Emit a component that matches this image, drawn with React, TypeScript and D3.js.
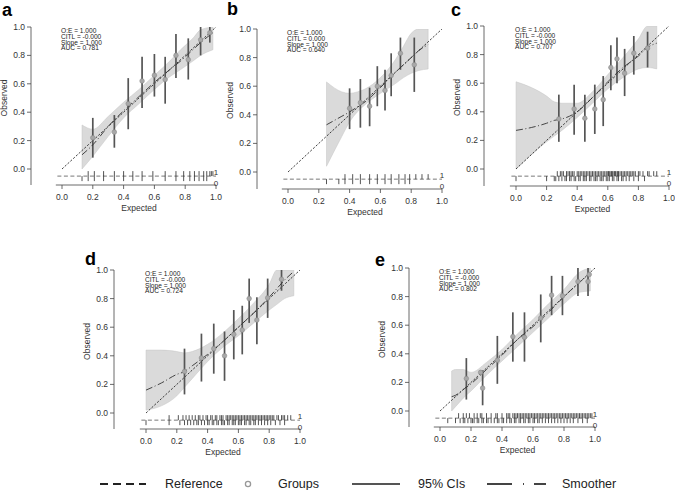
import React from "react";
import * as d3 from "d3";

// ---------- Panel a ----------
const aGroupX = [0.20, 0.34, 0.43, 0.52, 0.60, 0.67, 0.74, 0.82, 0.90, 0.96];
const aGroupY = [0.22, 0.26, 0.46, 0.62, 0.66, 0.63, 0.80, 0.77, 0.91, 0.96];
const aGroupLo = [0.08, 0.15, 0.28, 0.43, 0.51, 0.46, 0.64, 0.63, 0.80, 0.89];
const aGroupHi = [0.36, 0.38, 0.64, 0.79, 0.81, 0.79, 0.95, 0.92, 1.0, 1.0];
const aSmoothX = [0.13, 0.2, 0.3, 0.4, 0.5, 0.6, 0.7, 0.77, 0.85, 0.9, 0.98];
const aSmoothY = [0.10, 0.17, 0.30, 0.41, 0.51, 0.61, 0.70, 0.76, 0.84, 0.89, 0.96];
const aSmoothLo = [0.0, 0.09, 0.23, 0.36, 0.46, 0.56, 0.65, 0.70, 0.76, 0.80, 0.84];
const aSmoothHi = [0.31, 0.28, 0.37, 0.47, 0.56, 0.66, 0.76, 0.84, 0.92, 0.98, 1.0];
const aRugOnes = [0.17, 0.21, 0.27, 0.34, 0.40, 0.46, 0.52, 0.59, 0.67, 0.74, 0.79, 0.83, 0.86, 0.89, 0.92, 0.94, 0.96, 0.97, 0.98];
const aRugZeros = [0.13, 0.17, 0.21, 0.27, 0.34, 0.40, 0.46, 0.52, 0.59, 0.67, 0.74, 0.79, 0.83, 0.86, 0.89, 0.92, 0.94];

// ---------- Panel b ----------
const bGroupX = [0.40, 0.47, 0.53, 0.58, 0.63, 0.67, 0.73, 0.82];
const bGroupY = [0.445, 0.485, 0.46, 0.60, 0.57, 0.675, 0.83, 0.75];
const bGroupLo = [0.30, 0.31, 0.32, 0.46, 0.43, 0.53, 0.715, 0.56];
const bGroupHi = [0.585, 0.65, 0.59, 0.74, 0.715, 0.83, 0.94, 0.94];
const bSmoothX = [0.25, 0.35, 0.4, 0.45, 0.5, 0.6, 0.7, 0.75, 0.8, 0.85, 0.91];
const bSmoothY = [0.33, 0.39, 0.42, 0.455, 0.49, 0.59, 0.70, 0.75, 0.80, 0.85, 0.89];
const bSmoothLo = [0.04, 0.25, 0.35, 0.42, 0.47, 0.55, 0.62, 0.66, 0.69, 0.71, 0.72];
const bSmoothHi = [0.63, 0.56, 0.55, 0.56, 0.58, 0.66, 0.79, 0.88, 0.97, 1.0, 1.0];
const bRugOnes = [0.37, 0.42, 0.47, 0.53, 0.58, 0.63, 0.67, 0.72, 0.76, 0.79, 0.83, 0.87, 0.91];
const bRugZeros = [0.25, 0.33, 0.37, 0.42, 0.47, 0.53, 0.58, 0.63, 0.67, 0.72, 0.76, 0.79];

// ---------- Panel c ----------
const cGroupX = [0.28, 0.38, 0.45, 0.515, 0.57, 0.62, 0.66, 0.71, 0.77, 0.86];
const cGroupY = [0.35, 0.42, 0.355, 0.42, 0.485, 0.71, 0.77, 0.67, 0.81, 0.845];
const cGroupLo = [0.19, 0.24, 0.19, 0.245, 0.30, 0.55, 0.60, 0.51, 0.66, 0.71];
const cGroupHi = [0.52, 0.59, 0.52, 0.59, 0.65, 0.865, 0.92, 0.84, 0.93, 0.96];
const cSmoothX = [0.0, 0.1, 0.2, 0.25, 0.3, 0.4, 0.5, 0.6, 0.7, 0.8, 0.86, 0.92];
const cSmoothY = [0.27, 0.29, 0.32, 0.34, 0.35, 0.40, 0.50, 0.61, 0.71, 0.79, 0.85, 0.88];
const cSmoothLo = [0.0, 0.10, 0.19, 0.23, 0.27, 0.36, 0.46, 0.56, 0.64, 0.70, 0.71, 0.70];
const cSmoothHi = [0.61, 0.57, 0.51, 0.47, 0.46, 0.46, 0.54, 0.66, 0.78, 0.91, 1.0, 1.0];
const cRugOnes = [0.27, 0.29, 0.30, 0.31, 0.33, 0.34, 0.35, 0.36, 0.37, 0.38, 0.40, 0.41, 0.42, 0.43, 0.44, 0.45, 0.46, 0.47, 0.48, 0.49, 0.50, 0.51, 0.52, 0.53, 0.54, 0.55, 0.56, 0.57, 0.58, 0.59, 0.60, 0.605, 0.61, 0.62, 0.625, 0.63, 0.64, 0.645, 0.65, 0.66, 0.665, 0.67, 0.68, 0.69, 0.70, 0.71, 0.72, 0.73, 0.74, 0.75, 0.76, 0.77, 0.78, 0.80, 0.81, 0.83, 0.86, 0.87, 0.90, 0.92];
const cRugZeros = [0.0, 0.20, 0.25, 0.26, 0.28, 0.30, 0.32, 0.33, 0.35, 0.36, 0.38, 0.39, 0.41, 0.42, 0.44, 0.45, 0.46, 0.48, 0.49, 0.51, 0.52, 0.53, 0.55, 0.56, 0.57, 0.59, 0.60, 0.61, 0.63, 0.64, 0.66, 0.67, 0.69, 0.70, 0.72, 0.74, 0.77, 0.80, 0.84];

// ---------- Panel d ----------
const dGroupX = [0.25, 0.36, 0.44, 0.51, 0.57, 0.625, 0.67, 0.72, 0.79, 0.88];
const dGroupY = [0.29, 0.385, 0.45, 0.40, 0.55, 0.58, 0.80, 0.65, 0.805, 0.935];
const dGroupLo = [0.13, 0.22, 0.275, 0.225, 0.375, 0.41, 0.63, 0.48, 0.665, 0.855];
const dGroupHi = [0.45, 0.555, 0.625, 0.57, 0.72, 0.75, 0.94, 0.81, 0.94, 1.0];
const dSmoothX = [0.0, 0.1, 0.2, 0.25, 0.3, 0.4, 0.5, 0.6, 0.7, 0.8, 0.85, 0.9, 0.96];
const dSmoothY = [0.16, 0.21, 0.27, 0.29, 0.33, 0.41, 0.50, 0.60, 0.70, 0.81, 0.87, 0.93, 0.99];
const dSmoothLo = [0.02, 0.05, 0.12, 0.18, 0.24, 0.36, 0.46, 0.54, 0.63, 0.72, 0.76, 0.80, 0.82];
const dSmoothHi = [0.44, 0.44, 0.43, 0.42, 0.43, 0.48, 0.56, 0.66, 0.77, 0.90, 1.0, 1.0, 1.0];
const dRugOnes = [0.15, 0.21, 0.24, 0.26, 0.28, 0.30, 0.32, 0.34, 0.35, 0.37, 0.39, 0.40, 0.42, 0.43, 0.45, 0.46, 0.48, 0.49, 0.50, 0.52, 0.53, 0.54, 0.55, 0.56, 0.57, 0.58, 0.59, 0.60, 0.61, 0.62, 0.63, 0.64, 0.65, 0.66, 0.67, 0.68, 0.69, 0.70, 0.71, 0.72, 0.73, 0.74, 0.75, 0.76, 0.77, 0.78, 0.79, 0.80, 0.81, 0.82, 0.83, 0.85, 0.86, 0.88, 0.89, 0.90, 0.92, 0.94];
const dRugZeros = [0.0, 0.15, 0.22, 0.25, 0.27, 0.29, 0.31, 0.33, 0.34, 0.36, 0.38, 0.40, 0.41, 0.43, 0.44, 0.46, 0.47, 0.49, 0.50, 0.51, 0.53, 0.54, 0.56, 0.57, 0.58, 0.60, 0.61, 0.62, 0.64, 0.65, 0.67, 0.68, 0.70, 0.71, 0.73, 0.75, 0.77, 0.79, 0.81, 0.84, 0.87, 0.90];

// ---------- Panel e ----------
const eGroupX = [0.17, 0.262, 0.275, 0.37, 0.47, 0.545, 0.65, 0.72, 0.79, 0.89, 0.955, 0.963];
const eGroupY = [0.227, 0.27, 0.16, 0.355, 0.52, 0.515, 0.65, 0.81, 0.805, 0.905, 0.905, 0.955];
const eGroupLo = [0.08, 0.255, 0.04, 0.19, 0.345, 0.345, 0.48, 0.67, 0.67, 0.805, 0.805, 0.945];
const eGroupHi = [0.37, 0.285, 0.285, 0.525, 0.69, 0.69, 0.815, 0.945, 0.945, 1.0, 1.0, 0.965];
const eSmoothX = [0.075, 0.1, 0.15, 0.2, 0.3, 0.4, 0.5, 0.6, 0.7, 0.8, 0.9, 0.97];
const eSmoothY = [0.10, 0.11, 0.15, 0.19, 0.29, 0.39, 0.50, 0.59, 0.69, 0.80, 0.90, 0.96];
const eSmoothLo = [0.0, 0.03, 0.09, 0.14, 0.25, 0.35, 0.45, 0.55, 0.65, 0.75, 0.83, 0.84];
const eSmoothHi = [0.28, 0.29, 0.29, 0.27, 0.34, 0.43, 0.54, 0.64, 0.75, 0.85, 0.97, 1.0];
const eRugOnes = [0.12, 0.15, 0.17, 0.19, 0.22, 0.24, 0.26, 0.27, 0.30, 0.33, 0.36, 0.37, 0.40, 0.43, 0.44, 0.45, 0.47, 0.48, 0.49, 0.50, 0.51, 0.52, 0.53, 0.54, 0.55, 0.56, 0.57, 0.58, 0.59, 0.60, 0.61, 0.62, 0.63, 0.64, 0.65, 0.66, 0.67, 0.68, 0.69, 0.70, 0.71, 0.72, 0.73, 0.74, 0.75, 0.76, 0.77, 0.78, 0.79, 0.80, 0.81, 0.82, 0.83, 0.84, 0.85, 0.86, 0.87, 0.88, 0.89, 0.90, 0.91, 0.92, 0.93, 0.94, 0.95, 0.96, 0.97, 0.98];
const eRugZeros = [0.05, 0.10, 0.13, 0.15, 0.16, 0.18, 0.20, 0.21, 0.22, 0.24, 0.25, 0.27, 0.28, 0.30, 0.31, 0.33, 0.35, 0.37, 0.38, 0.40, 0.41, 0.43, 0.45, 0.46, 0.48, 0.49, 0.51, 0.52, 0.54, 0.55, 0.57, 0.58, 0.60, 0.61, 0.63, 0.64, 0.66, 0.68, 0.70, 0.72, 0.74, 0.76, 0.78, 0.80, 0.82, 0.84, 0.86, 0.89, 0.92, 0.95];

// Summary statistics printed in each panel
const panelLetters = ["a", "b", "c", "d", "e"];
const citlValues = ["-0.000", "0.000", "-0.000", "-0.000", "-0.000"];
const aucValues = ["0.781", "0.640", "0.707", "0.724", "0.802"];

const axisTicks = [0, 0.2, 0.4, 0.6, 0.8, 1.0];
const legendLabels = ["Reference", "Groups", "95% CIs", "Smoother"];

const FONT = "'Liberation Sans', Arial, Helvetica, sans-serif";

type PanelData = {
  gx: number[]; gy: number[]; glo: number[]; ghi: number[];
  sx: number[]; sy: number[]; slo: number[]; shi: number[];
  ones: number[]; zeros: number[];
};

const panelData: PanelData[] = [
  { gx: aGroupX, gy: aGroupY, glo: aGroupLo, ghi: aGroupHi, sx: aSmoothX, sy: aSmoothY, slo: aSmoothLo, shi: aSmoothHi, ones: aRugOnes, zeros: aRugZeros },
  { gx: bGroupX, gy: bGroupY, glo: bGroupLo, ghi: bGroupHi, sx: bSmoothX, sy: bSmoothY, slo: bSmoothLo, shi: bSmoothHi, ones: bRugOnes, zeros: bRugZeros },
  { gx: cGroupX, gy: cGroupY, glo: cGroupLo, ghi: cGroupHi, sx: cSmoothX, sy: cSmoothY, slo: cSmoothLo, shi: cSmoothHi, ones: cRugOnes, zeros: cRugZeros },
  { gx: dGroupX, gy: dGroupY, glo: dGroupLo, ghi: dGroupHi, sx: dSmoothX, sy: dSmoothY, slo: dSmoothLo, shi: dSmoothHi, ones: dRugOnes, zeros: dRugZeros },
  { gx: eGroupX, gy: eGroupY, glo: eGroupLo, ghi: eGroupHi, sx: eSmoothX, sy: eSmoothY, slo: eSmoothLo, shi: eSmoothHi, ones: eRugOnes, zeros: eRugZeros },
];

// Pixel layout of each panel: y-axis position, x range, y range, x-axis position, letter position
const panelLayout = [
  { axisX: 31, x0: 62, x1: 216, yTop: 27, yZero: 169, axisY: 185, lx: 2, ly: 16 },
  { axisX: 257, x0: 288, x1: 442, yTop: 29, yZero: 172, axisY: 189, lx: 227, ly: 15 },
  { axisX: 484, x0: 516, x1: 669, yTop: 26, yZero: 169, axisY: 186, lx: 451, ly: 16 },
  { axisX: 114, x0: 146, x1: 300, yTop: 270, yZero: 413, axisY: 429, lx: 85, ly: 265 },
  { axisX: 409, x0: 440, x1: 595, yTop: 268, yZero: 411, axisY: 427, lx: 375, ly: 266 },
];

function Panel({ idx }: { idx: number }) {
  const L = panelLayout[idx];
  const D = panelData[idx];
  const x = d3.scaleLinear().domain([0, 1]).range([L.x0, L.x1]);
  const y = d3.scaleLinear().domain([0, 1]).range([L.yZero, L.yTop]);
  const fmt = d3.format(".1f");

  const smooth = D.sx.map((v, i) => ({ x: v, y: D.sy[i], lo: D.slo[i], hi: D.shi[i] }));
  const area = d3
    .area<{ x: number; lo: number; hi: number }>()
    .x((d) => x(d.x))
    .y0((d) => y(d.lo))
    .y1((d) => y(d.hi))
    .curve(d3.curveMonotoneX);
  const line = d3
    .line<{ x: number; y: number }>()
    .x((d) => x(d.x))
    .y((d) => y(d.y))
    .curve(d3.curveMonotoneX);

  const rugY = y(-0.05);
  const tick = 5;
  const clipId = `clip-${idx}`;

  return (
    <g>
      <defs>
        <clipPath id={clipId}>
          <rect x={L.axisX} y={y(1)} width={L.x1 - L.axisX + 10} height={L.axisY - y(1)} />
        </clipPath>
      </defs>
      <text x={L.lx} y={L.ly} fontFamily={FONT} fontWeight="bold" fontSize={18} fill="#000">
        {panelLetters[idx]}
      </text>

      {/* axes */}
      <line x1={L.axisX} x2={L.axisX} y1={y(1)} y2={L.axisY} stroke="#444" strokeWidth={0.8} />
      {axisTicks.map((t) => (
        <g key={`yt${t}`}>
          <line x1={L.axisX - 4} x2={L.axisX} y1={y(t)} y2={y(t)} stroke="#444" strokeWidth={0.8} />
          <text x={L.axisX - 6} y={y(t) + 3} textAnchor="end" fontFamily={FONT} fontSize={8.5} fill="#333">
            {fmt(t)}
          </text>
        </g>
      ))}
      <line x1={x(-0.04)} x2={x(1)} y1={L.axisY} y2={L.axisY} stroke="#444" strokeWidth={0.8} />
      {axisTicks.map((t) => (
        <g key={`xt${t}`}>
          <line x1={x(t)} x2={x(t)} y1={L.axisY} y2={L.axisY + 4} stroke="#444" strokeWidth={0.8} />
          <text x={x(t)} y={L.axisY + 15} textAnchor="middle" fontFamily={FONT} fontSize={8.5} fill="#333">
            {fmt(t)}
          </text>
        </g>
      ))}
      <text x={x(0.5)} y={L.axisY + 26} textAnchor="middle" fontFamily={FONT} fontSize={8.5} fill="#333">
        Expected
      </text>
      <text
        transform={`translate(${L.axisX - 24},${y(0.5)}) rotate(-90)`}
        textAnchor="middle"
        fontFamily={FONT}
        fontSize={8.5}
        fill="#333"
      >
        Observed
      </text>

      <g clipPath={`url(#${clipId})`}>
        {/* smoother confidence band */}
        <path d={area(smooth) || ""} fill="#dadada" stroke="#c4c4c4" strokeWidth={0.5} />
        {/* reference diagonal */}
        <line x1={x(0)} y1={y(0)} x2={x(1)} y2={y(1)} stroke="#111" strokeWidth={0.8} strokeDasharray="2.2,1.6" />
        {/* group CIs */}
        {D.gx.map((gx, i) => (
          <line key={`ci${i}`} x1={x(gx)} x2={x(gx)} y1={y(D.glo[i])} y2={y(D.ghi[i])} stroke="#555" strokeWidth={1.7} />
        ))}
        {/* smoother */}
        <path d={line(smooth) || ""} fill="none" stroke="#333" strokeWidth={0.9} strokeDasharray="7,2.5,1,2.5" />
        {/* group points */}
        {D.gx.map((gx, i) => (
          <circle key={`pt${i}`} cx={x(gx)} cy={y(D.gy[i])} r={2.3} fill="#a8a8a8" stroke="#8a8a8a" strokeWidth={0.6} />
        ))}
      </g>

      {/* distribution of predictions by outcome */}
      <line x1={x(-0.03)} x2={x(1)} y1={rugY} y2={rugY} stroke="#555" strokeWidth={0.8} strokeDasharray="4,2.5" />
      {D.ones.map((v, i) => (
        <line key={`r1${i}`} x1={x(v)} x2={x(v)} y1={rugY} y2={rugY - tick} stroke="#2a2a2a" strokeWidth={0.8} />
      ))}
      {D.zeros.map((v, i) => (
        <line key={`r0${i}`} x1={x(v)} x2={x(v)} y1={rugY} y2={rugY + tick} stroke="#2a2a2a" strokeWidth={0.8} />
      ))}
      <text x={x(1)} y={rugY - 1} textAnchor="middle" fontFamily={FONT} fontSize={8} fill="#333">1</text>
      <text x={x(1)} y={rugY + 10} textAnchor="middle" fontFamily={FONT} fontSize={8} fill="#333">0</text>

      {/* statistics */}
      {[
        "O:E = 1.000",
        `CITL = ${citlValues[idx]}`,
        "Slope = 1.000",
        `AUC = ${aucValues[idx]}`,
      ].map((s, i) => (
        <text key={`st${i}`} x={L.x0 - 1} y={L.yTop + 6} fontFamily={FONT} fontSize={6.6} fill="#222"
          dy={i * 5.8}>
          {s}
        </text>
      ))}
    </g>
  );
}

function Legend() {
  const y = 484;
  const ty = 488;
  return (
    <g fontFamily={FONT} fontSize={12.5} fill="#222">
      <line x1={100} x2={146} y1={y} y2={y} stroke="#222" strokeWidth={1.8} strokeDasharray="8,5" />
      <text x={165} y={ty}>{legendLabels[0]}</text>
      <circle cx={248} cy={y} r={2.6} fill="none" stroke="#999" strokeWidth={1.3} />
      <text x={278} y={ty}>{legendLabels[1]}</text>
      <line x1={352} x2={400} y1={y} y2={y} stroke="#555" strokeWidth={1.8} />
      <text x={418} y={ty}>{legendLabels[2]}</text>
      <line x1={487} x2={546} y1={y} y2={y} stroke="#444" strokeWidth={1.8} strokeDasharray="25,11,1,10,12" />
      <text x={562} y={ty}>{legendLabels[3]}</text>
    </g>
  );
}

export default function App() {
  return (
    <svg
      width={675}
      height={490}
      viewBox="0 0 675 490"
      style={{ position: "absolute", left: 0, top: 0, background: "#fff" }}
    >
      <rect x={0} y={0} width={675} height={490} fill="#fff" />
      {panelLayout.map((_, i) => (
        <Panel key={i} idx={i} />
      ))}
      <Legend />
    </svg>
  );
}
